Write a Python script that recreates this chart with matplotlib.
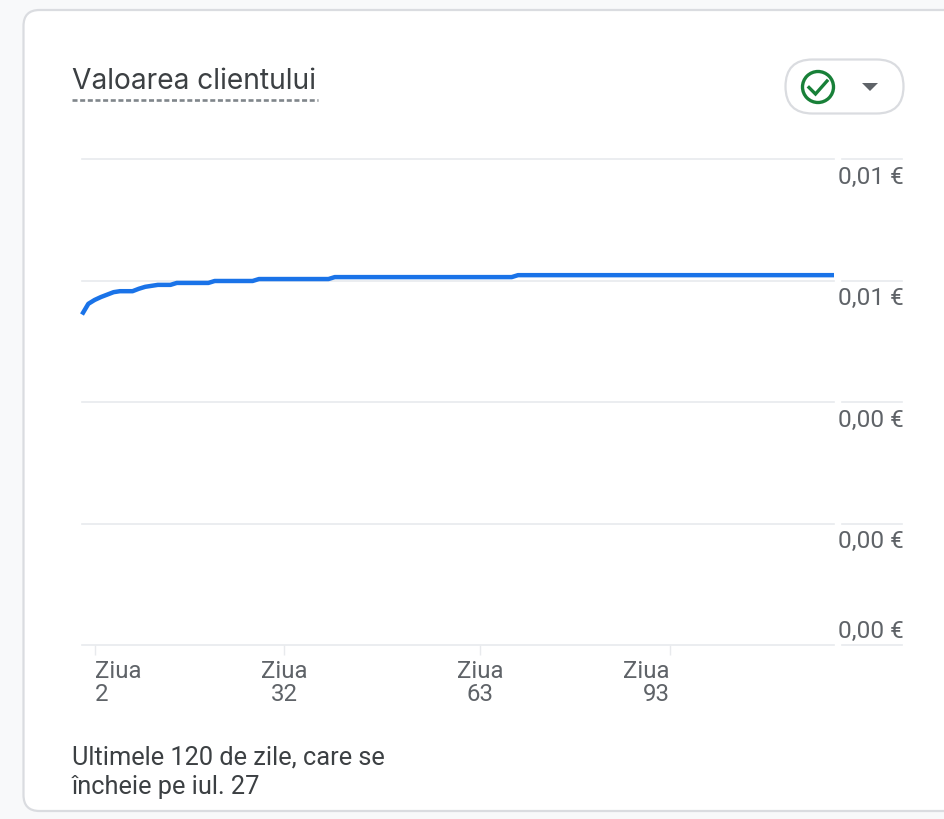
import matplotlib
matplotlib.use('Agg')
import matplotlib.pyplot as plt
from matplotlib.patches import FancyBboxPatch, Circle, Polygon

plt.rcParams['font.family'] = ['Roboto', 'DejaVu Sans']

# values
days = [0, 1, 2, 3, 4, 5, 6, 8, 9, 10, 12, 14, 15, 20, 21, 27, 28, 39, 40, 68, 69, 119]
values = [0.00680, 0.00702, 0.00710, 0.00716, 0.00721, 0.00726, 0.00728, 0.00728, 0.00733,
          0.00737, 0.00741, 0.00741, 0.00745, 0.00745, 0.00749, 0.00749, 0.00753, 0.00753,
          0.00757, 0.00757, 0.00761, 0.00761]
y_ticks = [0, 0.0025, 0.005, 0.0075, 0.01]
y_labels = ['0,00 €', '0,00 €', '0,00 €', '0,01 €', '0,01 €']
x_ticks = [2, 32, 63, 93]
x_labels = ['Ziua\n2', 'Ziua\n32', 'Ziua\n63', 'Ziua\n93']

W, H = 945, 819
GRID = '#e8eaed'
TEXT = '#5f6368'
DARK = '#3c4043'

fig = plt.figure(figsize=(W / 100, H / 100), dpi=100, facecolor='#f8f9fa')

# overlay in pixel coordinates for the card and the small controls
bg = fig.add_axes([0, 0, 1, 1])
bg.set_xlim(0, W)
bg.set_ylim(H, 0)
bg.axis('off')
bg.add_patch(FancyBboxPatch((23.5, 10), 1000, 801, boxstyle='round,pad=0,rounding_size=16',
                            fc='white', ec='#dadce0', lw=1.6))
bg.text(72, 81.5, 'Valoarea clientului', fontsize=20.3, color=DARK, va='center', ha='left',
        family=['Inter', 'DejaVu Sans'])
bg.plot([72, 318], [99.5, 99.5], color='#80868b', lw=1.9, dashes=(1.9, 1.0))

bg.add_patch(FancyBboxPatch((785.5, 59.5), 118, 54, boxstyle='round,pad=0,rounding_size=27',
                            fc='white', ec='#dadce0', lw=1.6))
bg.add_patch(Circle((818, 87), 15.5, fc='white', ec='#188038', lw=2.4))
bg.plot([809, 815.5, 827], [87.5, 94, 81], color='#188038', lw=2.4, solid_joinstyle='miter')
bg.add_patch(Polygon([[862, 83], [878, 83], [870, 91]], fc='#5f6368', ec='none'))

bg.text(72, 757, 'Ultimele 120 de zile, care se', fontsize=18.3, color=DARK, va='center', ha='left')
bg.text(72, 787, 'încheie pe iul. 27', fontsize=18.3, color=DARK, va='center', ha='left')

# chart area
ax = fig.add_axes([82 / W, 1 - 645 / H, (834 - 82) / W, (645 - 159) / H])
ax.patch.set_alpha(0)
ax.set_xlim(0, 119)
ax.set_ylim(0, 0.01)
for s in ax.spines.values():
    s.set_visible(False)

ax.set_yticks(y_ticks)
ax.set_yticklabels([])
ax.yaxis.set_ticks_position('none')
ax.grid(axis='y', color=GRID, lw=1.2, clip_on=False)
ax.set_axisbelow(True)

trans = ax.get_yaxis_transform()
for v, lab in zip(y_ticks, y_labels):
    # right hand piece of the gridline, over the labels
    ax.plot([1.0105, 1.0905], [v, v], transform=trans, color=GRID, lw=1.2, clip_on=False)
    off = 14 if v == 0 else -18
    ax.annotate(lab, (1.0905, v), xycoords=trans, xytext=(1.4, off * 0.72), textcoords='offset points',
                ha='right', va='center', fontsize=17.6, color=TEXT)

ax.set_xticks(x_ticks)
ax.set_xticklabels(x_labels, fontsize=17.3, color=TEXT, linespacing=1.02)
ax.tick_params(axis='x', length=7.5, width=1.0, color=GRID, pad=3)
labs = ax.get_xticklabels()
labs[0].set_ha('left')
labs[0].set_multialignment('left')
labs[-1].set_ha('right')
labs[-1].set_multialignment('right')
for lab in labs[1:-1]:
    lab.set_multialignment('center')

ax.plot(days, values, color='#1a73e8', lw=3.2, solid_capstyle='butt', solid_joinstyle='round', clip_on=False)

fig.savefig('out.png', dpi=100, facecolor=fig.get_facecolor())
